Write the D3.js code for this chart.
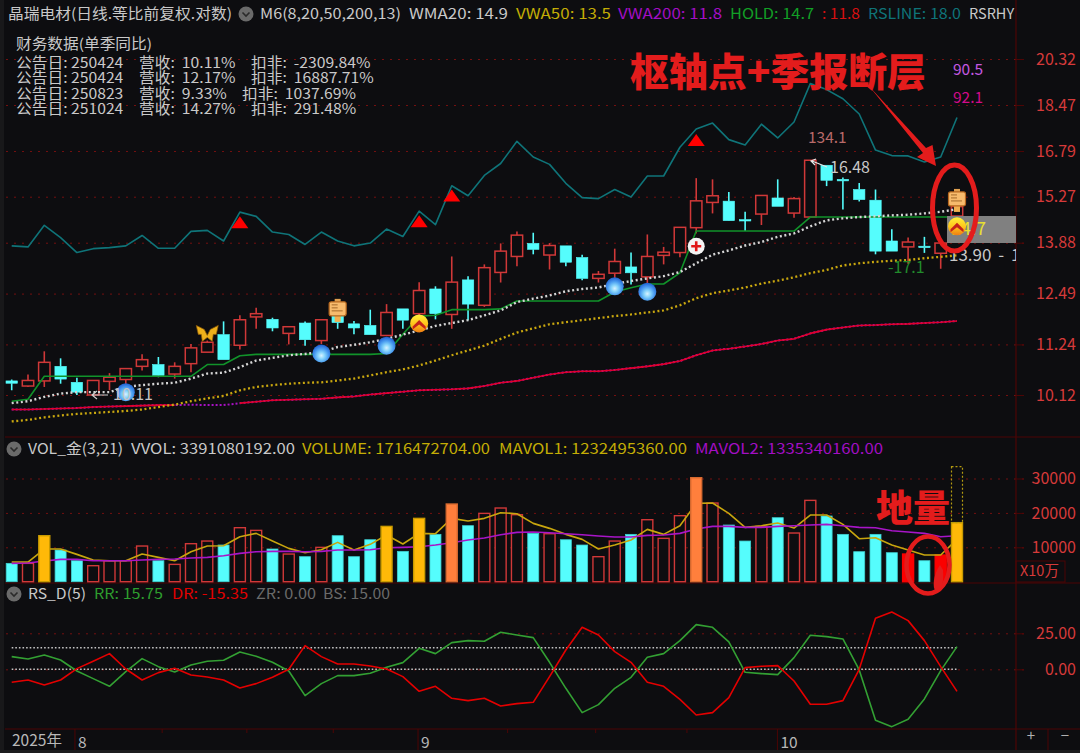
<!DOCTYPE html>
<html><head><meta charset="utf-8">
<script src="https://cdn.jsdelivr.net/npm/d3@7/dist/d3.min.js"></script>
<style>
html,body{margin:0;padding:0;background:#0d0d10;overflow:hidden}
svg{display:block}
text{font-family:"Noto Sans CJK SC","Noto Sans",sans-serif}
</style></head><body><svg id="c" width="1080" height="753"></svg>
<script>
const opens=[10.42,10.31,10.42,10.74,10.39,10.12,10.41,10.45,10.74,10.78,10.57,10.80,11.06,11.47,11.22,11.90,11.84,11.50,11.75,11.33,11.94,11.73,11.69,11.45,12.10,11.98,12.61,11.96,12.85,12.19,13.05,13.49,13.86,13.53,13.79,13.46,12.89,13.03,13.20,12.93,13.52,13.60,14.32,15.09,15.13,14.56,14.73,15.23,14.76,14.64,16.30,15.83,15.50,15.16,13.93,13.76,13.78,13.58,14.67];
const closes=[10.37,10.43,10.83,10.46,10.18,10.43,10.50,10.69,10.89,10.54,10.74,11.16,11.29,10.89,11.83,11.98,11.63,11.66,11.35,11.83,11.76,11.63,11.47,12.01,11.82,12.57,11.98,12.79,12.22,13.18,13.64,14.10,13.69,13.80,13.33,12.89,13.00,13.35,13.04,13.49,13.61,14.33,15.14,15.30,14.53,14.52,15.31,14.97,15.21,16.47,15.80,15.78,15.18,13.64,13.64,13.90,13.74,13.87,14.96];
const highs=[10.45,10.56,11.08,10.92,10.49,10.43,10.59,10.69,11.01,10.95,10.83,11.25,11.33,11.79,11.94,12.13,11.88,11.66,11.79,11.83,12.06,11.80,12.08,12.22,12.10,12.79,12.68,13.49,12.95,13.27,13.86,14.21,14.17,13.87,13.79,13.54,13.09,13.71,13.60,14.12,13.76,14.33,15.87,15.83,15.42,14.80,15.32,15.83,15.26,16.47,16.30,15.89,15.71,15.50,14.27,14.03,14.05,13.87,15.16];
const lows=[10.22,10.29,10.29,10.36,10.12,10.12,10.22,10.35,10.65,10.50,10.47,10.61,11.06,10.89,11.12,11.61,11.55,11.24,11.21,11.25,11.61,11.48,11.47,11.45,11.61,11.87,11.84,11.61,11.82,12.15,12.78,13.22,13.55,13.13,13.22,12.84,12.78,12.89,12.73,12.76,13.27,13.47,14.15,14.75,14.52,14.22,14.40,14.97,14.62,14.64,15.61,14.87,15.12,13.55,13.64,13.29,13.59,13.15,14.66];

const wma20=[9.95,9.99,10.08,10.15,10.18,10.18,10.18,10.29,10.33,10.36,10.38,10.47,10.58,10.60,10.72,10.87,10.93,10.99,11.02,11.06,11.18,11.23,11.29,11.37,11.47,11.57,11.68,11.75,11.82,11.94,12.06,12.27,12.36,12.44,12.55,12.61,12.65,12.74,12.82,12.89,12.95,13.06,13.30,13.54,13.66,13.80,13.90,14.05,14.15,14.36,14.54,14.60,14.64,14.66,14.69,14.71,14.75,14.80,14.88];
const vwa50=[9.58,9.61,9.66,9.70,9.73,9.75,9.77,9.79,9.82,9.87,9.92,9.99,10.05,10.10,10.22,10.29,10.33,10.36,10.38,10.39,10.43,10.47,10.54,10.61,10.67,10.76,10.87,10.99,11.10,11.21,11.37,11.52,11.62,11.72,11.77,11.82,11.87,11.92,11.96,12.01,12.06,12.19,12.37,12.50,12.57,12.65,12.75,12.83,12.92,13.03,13.12,13.24,13.30,13.34,13.37,13.39,13.44,13.48,13.52];
const vwa200=[9.82,9.82,9.83,9.84,9.85,9.87,9.88,9.89,9.90,9.91,9.91,9.92,9.91,9.91,9.95,9.98,10.01,10.02,10.03,10.04,10.07,10.09,10.13,10.16,10.19,10.22,10.23,10.24,10.26,10.31,10.38,10.42,10.49,10.56,10.61,10.63,10.63,10.66,10.70,10.74,10.79,10.86,10.99,11.10,11.14,11.19,11.25,11.33,11.37,11.50,11.59,11.64,11.69,11.70,11.72,11.73,11.75,11.77,11.80];
const hold=[9.99,10.03,10.52,10.52,10.52,10.52,10.52,10.52,10.52,10.52,10.52,10.52,10.78,10.78,10.98,11.01,11.01,11.01,11.01,11.01,11.01,11.01,11.01,11.03,11.48,11.92,11.94,12.08,12.08,12.08,12.10,12.30,12.30,12.30,12.30,12.30,12.30,12.53,12.64,12.74,12.74,13.04,14.22,14.22,14.22,14.22,14.22,14.22,14.22,14.64,14.64,14.64,14.64,14.64,14.64,14.64,14.64,14.64,14.64];
const rsline=[13.79,13.76,14.39,14.03,13.60,13.71,13.74,13.79,14.09,13.72,13.72,14.21,14.24,13.93,14.79,14.66,14.19,14.12,13.83,14.19,13.93,13.79,13.87,14.28,14.06,14.82,14.41,15.62,15.30,15.96,16.36,17.13,16.58,16.33,15.70,15.24,15.21,15.50,15.26,15.94,15.94,16.92,17.57,17.79,17.19,17.00,17.75,17.25,17.83,19.31,19.07,18.71,18.13,16.82,16.63,16.62,16.41,16.58,18.00];

const volume=[5330,5330,13370,9200,6100,4650,6100,6100,10370,6100,5040,11050,11820,10660,15700,14920,9500,8040,7270,9980,13370,7270,12200,16080,8820,18410,13760,22580,16280,19860,21420,19480,14050,13950,12200,10660,7270,11820,13760,18020,12600,19190,30230,22870,16470,11820,16080,18600,14150,23640,19090,13760,8720,13760,8430,8040,6100,7750,17165];
const mavol1=[5717,5717,9496,9496,7946,6299,6105,6105,8043,7074,6105,8721,10368,10465,13082,14051,11822,9690,8430,9302,11434,9206,10853,13566,10950,14051,13954,18411,17636,18411,20058,19768,16958,15504,13760,12306,9496,10659,12113,15213,13760,16279,22772,22868,19865,15795,16279,17054,15601,19380,19380,16667,12500,12791,10659,9206,7752,7752,12325];
const mavol2=[5330,5426,6008,6492,6492,6105,6105,6105,6299,6492,6589,6880,7074,7558,8237,8721,8818,8818,8721,8818,9206,9206,9302,9884,9981,10175,10659,11337,12113,12694,13663,14341,14438,14244,13954,13663,13275,12985,12985,13469,13566,14051,15310,16085,16085,15795,15795,16085,16279,16473,16667,16279,15795,15698,14826,14438,14051,13082,13353];
const goldVol=[2,23,25,58], orangeVol=[27,42], solidRedVol=[55,57];
const projectedVol=33430;

const rr=[8.80,7.18,9.95,6.48,-1.16,-6.48,-11.81,-1.62,7.41,1.85,-1.85,3.01,5.56,6.25,12.04,9.03,4.86,-1.16,-18.29,-9.95,-4.40,-4.40,-2.78,1.39,4.63,14.58,10.88,18.52,19.91,19.45,25.70,23.84,21.99,4.86,-13.20,-30.10,-24.54,-13.20,-5.56,8.33,10.88,19.91,31.02,29.17,18.98,-2.08,-3.01,-3.70,8.10,23.61,22.69,21.07,-0.46,-35.42,-39.82,-34.73,-20.60,-0.93,15.75];
const dr=[-9.03,-7.41,-10.88,-7.41,0.46,5.56,10.88,0.23,-7.41,-2.32,0.69,-3.94,-5.32,-7.41,-12.96,-9.95,-5.56,0,16.44,8.80,3.70,3.70,2.32,0.23,-5.09,-15.28,-11.81,-20.14,-21.76,-20.14,-25.47,-23.84,-22.92,-5.09,13.43,29.17,23.84,12.27,4.86,-9.03,-11.81,-20.84,-31.72,-30.10,-19.68,1.16,2.08,2.55,-8.10,-24.31,-24.31,-21.76,0,35.42,39.82,33.80,19.91,1.85,-15.35];
const zr=0, bs=15;

const priceTicks=[10.12,11.24,12.49,13.88,15.27,16.79,18.47,20.32];
const volTicks=[10000,20000,30000];
const rsTicks=[0,25];
const monthTicks=[3.85,24.9,46.95], monthLabels=["8","9","10"];
const weekTicks=[9.2,14.4,19.7,30.4,35.8,41.4];

const triangleMarks=[[14,14.30],[25,14.33],[27,15.12],[42,16.96]];
const ballMarks=[[7,10.18],[19,11.03],[23,11.21],[37,12.68],[39,12.54]];
const badgeMarks=[[25,11.74],[58,14.36]];
const noteMarks=[[20,12.10],[58,15.20]];
const butterflyMark=[12,11.50];
const plusMark=[42,13.78];

const svg=d3.select("#c");
const CY="#55fdfd",RD="#d03838",GOLD="#ffb908",ORG="#ff7f3c",GRID="#741010",AX="#d63a3a",EDGE="#4d0505",ANN="#e31c1c";
const x=d3.scaleLinear().domain([0,58]).range([11.7,957]);
const y=d3.scaleLog().domain([10.12,20.32]).range([395,59]);
const yv=d3.scaleLinear().domain([0,30000]).range([581.7,478.5]);
const yr=d3.scaleLinear().domain([0,25]).range([669.3,633.3]);
const bw=11.4, idx=d3.range(opens.length);

const defs=svg.append("defs");
const lg1=defs.append("radialGradient").attr("id","ball").attr("cx",.5).attr("cy",.62).attr("r",.62);
[[0,"#d8f2ff"],[.3,"#86d4fb"],[.62,"#4a9cf0"],[1,"#1c5ccf"]].forEach(s=>lg1.append("stop").attr("offset",s[0]).attr("stop-color",s[1]));
const lg2=defs.append("linearGradient").attr("id","badge").attr("x1",0).attr("x2",0).attr("y1",0).attr("y2",1);
[[0,"#fff23a"],[.55,"#ffc21a"],[1,"#f07c12"]].forEach(s=>lg2.append("stop").attr("offset",s[0]).attr("stop-color",s[1]));
defs.append("clipPath").attr("id","chartClip").append("rect").attr("x",0).attr("y",0).attr("width",1016).attr("height",753);

// page frame
svg.append("rect").attr("x",0).attr("y",0).attr("width",4).attr("height",753).attr("fill","#18181a");
svg.append("rect").attr("x",0).attr("y",750).attr("width",1080).attr("height",3).attr("fill","#1c1c1e");

// axes with gridlines
function yAxis(sel,scale,ticks,fmt){
  const g=sel.append("g").attr("transform","translate(1024,0)")
    .call(d3.axisRight(scale).tickValues(ticks).tickFormat(fmt).tickSize(-1019));
  g.select(".domain").remove();
  g.selectAll(".tick line").attr("stroke",GRID).attr("stroke-width",1).attr("stroke-dasharray","2 6");
  g.selectAll(".tick text").attr("x",52).attr("text-anchor","end").attr("fill",AX).attr("font-size",16).attr("font-family",'"Noto Sans CJK SC"');
  g.selectAll(".tick").append("line").attr("x1",-8).attr("x2",0).attr("stroke",EDGE);
  return g;
}
yAxis(svg,y,priceTicks,d3.format(".2f"));
yAxis(svg,yv,volTicks,d3.format("d"));
yAxis(svg,yr,rsTicks,d3.format(".2f"));

// frame rules
[[5,1080,437],[5,1080,583],[5,1080,729]].forEach(r=>svg.append("line").attr("x1",r[0]).attr("x2",r[1]).attr("y1",r[2]).attr("y2",r[2]).attr("stroke",EDGE).attr("stroke-width",1.2));
svg.append("line").attr("x1",1016).attr("x2",1016).attr("y1",0).attr("y2",750).attr("stroke",EDGE).attr("stroke-width",1.2);
svg.append("line").attr("x1",1048).attr("x2",1048).attr("y1",729).attr("y2",750).attr("stroke",EDGE);
svg.append("rect").attr("x",1016).attr("y",561).attr("width",49).attr("height",21).attr("fill","none").attr("stroke",EDGE);
svg.append("text").attr("x",1020).attr("y",576).attr("fill",AX).attr("font-size",14.5).text("X10万");
svg.append("text").attr("x",1031).attr("y",741).attr("fill","#b0b0b0").attr("font-size",15).attr("text-anchor","middle").text("+");
svg.append("text").attr("x",1065).attr("y",741).attr("fill","#b0b0b0").attr("font-size",15).attr("text-anchor","middle").text("−");

// time axis
const xa=svg.append("g").attr("transform","translate(0,729)").call(d3.axisBottom(x).tickValues(monthTicks).tickSize(21).tickFormat((d,i)=>monthLabels[i]));
xa.select(".domain").remove();
xa.selectAll("line").attr("stroke",EDGE);
xa.selectAll("text").attr("x",3).attr("y",6).attr("dy",".85em").attr("text-anchor","start").attr("fill","#b8b8b8").attr("font-size",15.5);
const xw=svg.append("g").attr("transform","translate(0,729)").call(d3.axisBottom(x).tickValues(weekTicks).tickSize(4).tickFormat(""));
xw.select(".domain").remove(); xw.selectAll("line").attr("stroke",EDGE);
svg.append("text").attr("x",12).attr("y",746).attr("fill","#b8b8b8").attr("font-size",15.5).text("2025年");

// candles
const cg=svg.append("g");
idx.forEach(i=>{
  const up=closes[i]>=opens[i],c=up?RD:CY,top=y(Math.max(opens[i],closes[i])),bot=y(Math.min(opens[i],closes[i]));
  cg.append("line").attr("x1",x(i)).attr("x2",x(i)).attr("y1",y(highs[i])).attr("y2",top).attr("stroke",c).attr("stroke-width",1.6);
  cg.append("line").attr("x1",x(i)).attr("x2",x(i)).attr("y1",bot).attr("y2",y(lows[i])).attr("stroke",c).attr("stroke-width",1.6);
  cg.append("rect").attr("x",x(i)-bw/2).attr("width",bw).attr("y",top).attr("height",Math.max(1.2,bot-top))
    .attr("fill",up?"#0d0d10":CY).attr("stroke",c).attr("stroke-width",up?1.5:.6);
});

// overlays
const ln=(sc,arr)=>d3.line().x((d,i)=>x(i)).y(d=>sc(d))(arr);
const path=(d,c,w,dash)=>svg.append("path").attr("d",d).attr("fill","none").attr("stroke",c).attr("stroke-width",w).attr("stroke-dasharray",dash||null).attr("stroke-linejoin","round");
path(ln(y,rsline),"#0f7479",1.6);
path(ln(y,vwa200),"#a811c4",2,"2 2");
path(d3.line().defined((d,i)=>i<11||i>13).x((d,i)=>x(i)).y(d=>y(d))(vwa200),"#e2002c",1.6);
path(ln(y,vwa50),"#c9a70f",2.3,"2 2.6");
path(ln(y,hold),"#11932a",1.6);
path(ln(y,wma20),"#d5d5d5",2.4,"2 2.6");

// volume bars (plain ones below the averages)
const isGold=i=>goldVol.includes(i),isOrg=i=>orangeVol.includes(i),isSolid=i=>solidRedVol.includes(i);
const vbw=11;
const vbar=(g,i)=>{
  const up=closes[i]>=opens[i],top=yv(volume[i]),base=yv(0);
  const f=isGold(i)?GOLD:isOrg(i)?ORG:isSolid(i)?"#fb0000":up?"#0d0d10":CY;
  const s=isGold(i)?"#c89a00":isOrg(i)?"#d86a30":isSolid(i)?"#fb0000":up?RD:"#3fd0d0";
  g.append("rect").attr("x",x(i)-vbw/2).attr("width",vbw).attr("y",top).attr("height",base-top).attr("fill",f).attr("stroke",s).attr("stroke-width",up||isGold(i)?1.4:.8);
};
const vg=svg.append("g");
idx.filter(i=>!isGold(i)&&!isOrg(i)).forEach(i=>vbar(vg,i));
path(ln(yv,mavol1),"#c8a60e",1.6);
path(ln(yv,mavol2),"#a815c8",1.6);
const vt=svg.append("g");
idx.filter(i=>isGold(i)||isOrg(i)).forEach(i=>vbar(vt,i));
vt.append("rect").attr("x",x(58)-vbw/2).attr("width",vbw).attr("y",yv(projectedVol)).attr("height",yv(volume[58])-yv(projectedVol))
  .attr("fill","none").attr("stroke","#b39a10").attr("stroke-width",1.2).attr("stroke-dasharray","2 2");

// RS_D
const flat=v=>idx.map(()=>v);
path(ln(yr,flat(bs)),"#c4c4c4",1.6,"1.6 2");
path(ln(yr,flat(zr)),"#c4c4c4",1.6,"1.6 2");
path(ln(yr,rr),"#33a033",1.6);
path(ln(yr,dr),"#e40000",1.6);

// right hand price tag
svg.append("rect").attr("x",947).attr("y",216).attr("width",69).attr("height",27).attr("fill","#808080");
svg.append("text").attr("x",951).attr("y",235).attr("fill","#e8e030").attr("font-size",18).text("14.7");

// marks
triangleMarks.forEach(m=>{const X=x(m[0]),Y=y(m[1]);
  svg.append("path").attr("d",`M${X},${Y-12}L${X+8.5},${Y}L${X-8.5},${Y}Z`).attr("fill","#ff0000");});
ballMarks.forEach(m=>{
  svg.append("circle").attr("cx",x(m[0])).attr("cy",y(m[1])).attr("r",9).attr("fill","url(#ball)");});
const chev=(g,X,Y)=>{
  g.append("circle").attr("cx",X).attr("cy",Y).attr("r",9).attr("fill","url(#badge)");
  g.append("path").attr("d",`M${X-6.5},${Y+3}L${X},${Y-3.5}L${X+6.5},${Y+3}L${X+6.5},${Y+6}L${X},${Y+1}L${X-6.5},${Y+6}Z`).attr("fill","#c5231a");
};
const note=(X,Y)=>{
  const g=svg.append("g").attr("transform",`translate(${X},${Y})`);
  g.append("rect").attr("x",-3).attr("y",-10).attr("width",6).attr("height",4).attr("fill","#e0a050");
  g.append("rect").attr("x",-3).attr("y",7).attr("width",6).attr("height",6).attr("fill","#f2b050");
  g.append("rect").attr("x",-8.5).attr("y",-7).attr("width",17).attr("height",14).attr("rx",2).attr("fill","#f7bb6d").attr("stroke","#b8681e").attr("stroke-width",1.2);
  [-4,-1,2].forEach((d,k)=>g.append("line").attr("x1",-6).attr("x2",k==2?5:0).attr("y1",d).attr("y2",d).attr("stroke","#a56a2a"));
};
noteMarks.forEach(m=>note(x(m[0]),y(m[1])));
badgeMarks.forEach(m=>chev(svg,x(m[0]),y(m[1])));
{const X=x(butterflyMark[0]),Y=y(butterflyMark[1]);
 svg.append("path").attr("d",`M${X},${Y+2}L${X-3},${Y-4}L${X-11},${Y-8}L${X-9},${Y+1}L${X-6},${Y+1}L${X-5},${Y+8}L${X},${Y+4}L${X+5},${Y+8}L${X+6},${Y+1}L${X+9},${Y+1}L${X+11},${Y-8}L${X+3},${Y-4}Z`).attr("fill","#edb01b").attr("stroke","#8c5a08").attr("stroke-width",.7);}
{const X=x(plusMark[0]),Y=y(plusMark[1]);
 svg.append("circle").attr("cx",X).attr("cy",Y).attr("r",8.5).attr("fill","#f4f4f4");
 svg.append("path").attr("d",`M${X-5},${Y}H${X+5}M${X},${Y-5}V${Y+5}`).attr("stroke","#e01818").attr("stroke-width",2.6);}

// text helpers
const T=(px,py,s,c,fs,extra)=>{const t=svg.append("text").attr("x",px).attr("y",py).attr("fill",c).attr("font-size",fs).text(s);
  if(extra&&extra.w) t.attr("textLength",extra.w).attr("lengthAdjust","spacingAndGlyphs");
  if(extra&&extra.clip) t.attr("clip-path","url(#chartClip)");
  return t;};
const W="#c9c9c9";
T(8,19,"晶瑞电材(日线.等比前复权.对数)",W,14.5,{w:224});
T(260,19,"M6(8,20,50,200,13)",W,14.5,{w:141});
T(409,19,"WMA20: 14.9",W,14.5,{w:99});
T(516,19,"VWA50: 13.5","#c4ad05",14.5,{w:95});
T(618,19,"VWA200: 11.8","#a30fc4",14.5,{w:104});
T(730,19,"HOLD: 14.7","#12a026",14.5,{w:84});
T(822,19,": 11.8","#d81010",14.5,{w:38});
T(868,19,"RSLINE: 18.0","#0f7479",14.5,{w:93});
T(969,19,"RSRHY",W,14.5,{clip:1});
[[246,14],[14,449],[14,594]].forEach(c=>{
  svg.append("circle").attr("cx",c[0]).attr("cy",c[1]).attr("r",7.5).attr("fill","#6a6a6a");
  svg.append("path").attr("d",`M${c[0]-3.5},${c[1]-1.5}L${c[0]},${c[1]+2}L${c[0]+3.5},${c[1]-1.5}`).attr("fill","none").attr("stroke","#2a2a2a").attr("stroke-width",1.6);
});
T(16,49,"财务数据(单季同比)",W,14.3,{w:136});
const fin=[["250424","10.11%","-2309.84%",251],["250424","12.17%","16887.71%",251],["250823","9.33%","1037.69%",242],["251024","14.27%","291.48%",251]];
const XS=1.1;
const finText=svg.append("g").attr("transform",`scale(${XS},1)`).append("text").attr("fill",W).attr("font-size",14.3).attr("xml:space","preserve").style("white-space","pre");
fin.forEach((r,k)=>{const b=68+k*15.4;
  finText.append("tspan").attr("x",16/XS).attr("y",b).text("公告日: "+r[0]);
  finText.append("tspan").attr("x",139/XS).attr("y",b).text("营收:  "+r[1]);
  finText.append("tspan").attr("x",r[3]/XS).attr("y",b).text("扣非:  "+r[2]);
});
T(28,454,"VOL_金(3,21)",W,14.5,{w:95});
T(131,454,"VVOL: 3391080192.00",W,14.5,{w:164});
T(302,454,"VOLUME: 1716472704.00","#c4ad05",14.5,{w:188});
T(499,454,"MAVOL1: 1232495360.00","#c4ad05",14.5,{w:188});
T(695,454,"MAVOL2: 1335340160.00","#a30fc4",14.5,{w:188});
T(28,599,"RS_D(5)",W,14.5,{w:58});
T(94,599,"RR: 15.75","#2e9e2e",14.5,{w:69});
T(172,599,"DR: -15.35","#e00000",14.5,{w:76});
T(256,599,"ZR: 0.00","#6a6a6a",14.5,{w:60});
T(323,599,"BS: 15.00","#6a6a6a",14.5,{w:67});

// price call-outs
T(808,143,"134.1","#b86a6a",15.5);
T(830,173,"16.48",W,16);
svg.append("path").attr("d","M827,167L812,161M816,159L811,161L815,165").attr("fill","none").attr("stroke","#e8e8e8").attr("stroke-width",1.2);
svg.append("path").attr("d","M108,395H93M97,391L92,395L97,399").attr("fill","none").attr("stroke","#cfcfcf").attr("stroke-width",1.2);
T(113,400,"10.11","#c5c5c5",16);
T(888,273,"-17.1","#218a2c",16);
T(949,261,"13.90 - 14.73","#c9c9c9",17,{clip:1}).style("white-space","pre").attr("word-spacing",3);
T(953,75,"90.5","#c458e0",15.5);
T(953,103,"92.1","#d20a8a",15.5);

// hand annotations
const A=svg.append("g");
A.append("text").attr("x",630).attr("y",86).attr("fill",ANN).attr("font-size",39).attr("font-weight",900).attr("textLength",296).attr("lengthAdjust","spacingAndGlyphs").text("枢轴点+季报断层");
A.append("path").attr("d","M869,86L926,148L932.5,145L936,166L917,157L923,153Z").attr("fill",ANN);
A.append("ellipse").attr("cx",954.5).attr("cy",208).attr("rx",22).attr("ry",43).attr("fill","none").attr("stroke",ANN).attr("stroke-width",5);
A.append("text").attr("x",876).attr("y",522).attr("fill",ANN).attr("font-size",37).attr("font-weight",900).text("地量");
A.append("ellipse").attr("cx",928).attr("cy",565).attr("rx",21.5).attr("ry",28.5).attr("fill","none").attr("stroke",ANN).attr("stroke-width",4.5);
A.append("path").attr("d","M940,565C933,575 932,588 936,592C941,594 944,585 943,570Z").attr("fill",ANN);
</script></body></html>
